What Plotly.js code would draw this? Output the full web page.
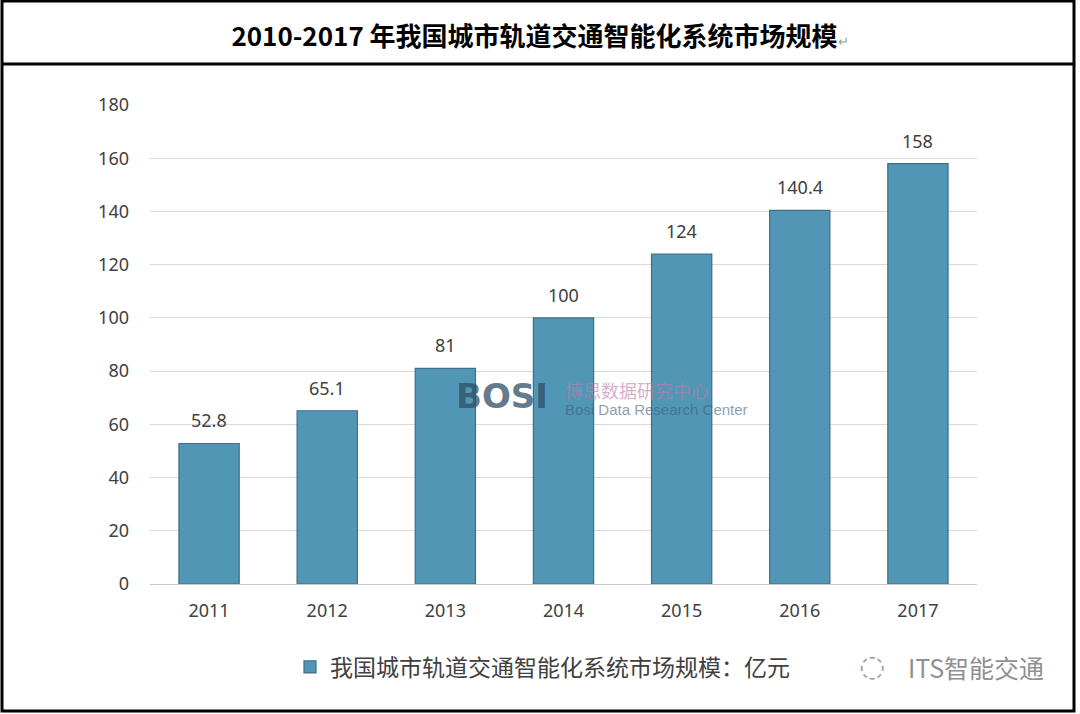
<!DOCTYPE html>
<html>
<head>
<meta charset="utf-8">
<script src="https://cdn.plot.ly/plotly-3.0.1.min.js"></script>
<style>html,body{margin:0;padding:0;background:#fff;}#chart{width:1080px;height:714px;}</style>
</head>
<body>
<div id="chart"></div>
<script>
var years = ['2011', '2012', '2013', '2014', '2015', '2016', '2017'];
var values = [52.8, 65.1, 81, 100, 124, 140.4, 158];
var valueLabels = ['52.8', '65.1', '81', '100', '124', '140.4', '158'];
var yTicks = [0, 20, 40, 60, 80, 100, 120, 140, 160, 180];
var seriesName = '我国城市轨道交通智能化系统市场规模：亿元';
var chartTitle = '2010-2017 年我国城市轨道交通智能化系统市场规模';

var W = 1080, H = 714;
var mL = 150, mR = 103, mT = 105, mB = 130;
var pw = W - mL - mR, ph = H - mT - mB;
function px(x) { return (x - mL) / pw; }
function py(y) { return (H - mB - y) / ph; }

var font = '"Noto Sans", "Noto Sans CJK SC", sans-serif';

var trace = {
  type: 'bar',
  x: years,
  y: values,
  name: seriesName,
  marker: { color: '#5296b6', line: { color: '#3d6f86', width: 1.2 } },
  hoverinfo: 'x+y'
};

var annotations = years.map(function (yr, i) {
  return {
    x: i, y: values[i], xref: 'x', yref: 'y',
    text: valueLabels[i], showarrow: false,
    yanchor: 'bottom', yshift: 9,
    font: { family: font, size: 18, color: '#404040' }
  };
});

annotations.push({
  xref: 'paper', yref: 'paper', x: px(1046), y: py(667),
  text: 'ITS智能交通', showarrow: false, xanchor: 'right', yanchor: 'middle',
  font: { family: '"Noto Sans CJK SC", sans-serif', size: 25, color: '#909090' }
});
annotations.push({
  xref: 'paper', yref: 'paper', x: px(872), y: py(665),
  text: '◌', showarrow: false, xanchor: 'center', yanchor: 'middle',
  font: { family: '"DejaVu Sans", sans-serif', size: 30, color: '#a0a0a0' }
});
annotations.push({
  xref: 'paper', yref: 'paper', x: px(454), y: py(396),
  text: '<b>BOSI</b>', showarrow: false, xanchor: 'left', yanchor: 'middle',
  opacity: 0.75,
  font: { family: '"DejaVu Sans", sans-serif', size: 34, color: '#2f4f66' }
});
annotations.push({
  xref: 'paper', yref: 'paper', x: px(563), y: py(390),
  text: '博思数据研究中心', showarrow: false, xanchor: 'left', yanchor: 'middle',
  opacity: 0.6,
  font: { family: '"Noto Sans CJK SC", sans-serif', size: 18, color: '#c07aa8' }
});
annotations.push({
  xref: 'paper', yref: 'paper', x: px(563), y: py(409),
  text: 'Bosi Data Research Center', showarrow: false, xanchor: 'left', yanchor: 'middle',
  opacity: 0.6,
  font: { family: '"Liberation Sans Narrow", "Liberation Sans", sans-serif', size: 15, color: '#3f5f80' }
});

var shapes = [
  { type: 'rect', xref: 'paper', yref: 'paper', x0: px(2), x1: px(1074), y0: py(711), y1: py(1),
    line: { color: '#000', width: 3 }, fillcolor: 'rgba(0,0,0,0)', layer: 'above' },
  { type: 'line', xref: 'paper', yref: 'paper', x0: px(2), x1: px(1074), y0: py(64), y1: py(64),
    line: { color: '#000', width: 3 }, layer: 'above' }
];

var layout = {
  width: W, height: H,
  margin: { l: mL, r: mR, t: mT, b: mB, pad: 0 },
  paper_bgcolor: '#fff', plot_bgcolor: '#fff',
  title: {
    text: '<b>' + chartTitle + '</b><span style="font-size:13px;color:#999">↵</span>',
    x: 540 / W, xref: 'container', xanchor: 'center',
    y: 1 - 37 / H, yref: 'container', yanchor: 'middle',
    font: { family: '"Noto Sans CJK SC", sans-serif', size: 26, color: '#000' }
  },
  bargap: 0.49,
  xaxis: {
    type: 'category', range: [-0.5, 6.5],
    showgrid: false, showline: false, zeroline: false, ticks: '',
    ticklabelstandoff: 14,
    tickfont: { family: font, size: 18, color: '#404040' }
  },
  yaxis: {
    range: [0, 180], tickvals: yTicks, ticktext: yTicks.map(String),
    showgrid: true, gridcolor: '#d9d9d9', gridwidth: 1,
    zeroline: true, zerolinecolor: '#c8c8c8', zerolinewidth: 1,
    showline: false, ticks: '', ticklabelstandoff: 20,
    tickfont: { family: font, size: 18, color: '#404040' }
  },
  showlegend: true,
  legend: {
    orientation: 'h', x: px(290), y: py(667), xanchor: 'left', yanchor: 'middle',
    font: { family: '"Noto Sans CJK SC", sans-serif', size: 23, color: '#404040' },
    bgcolor: 'rgba(0,0,0,0)'
  },
  annotations: annotations,
  shapes: shapes
};

Plotly.newPlot('chart', [trace], layout, { displayModeBar: false, staticPlot: true });
</script>
</body>
</html>
